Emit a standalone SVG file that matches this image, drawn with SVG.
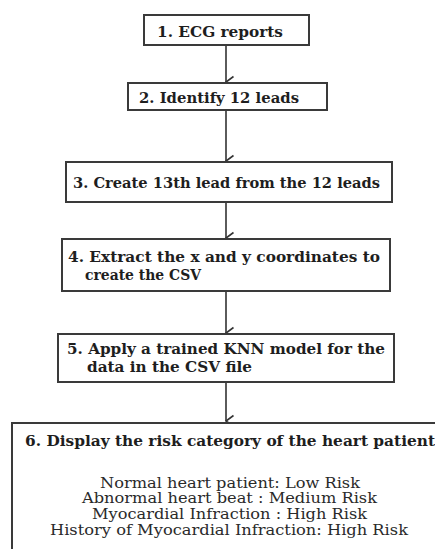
<svg xmlns="http://www.w3.org/2000/svg" width="435" height="549" viewBox="0 0 435 549">
  <style>
    .box { fill: #ffffff; stroke: #3a3a3a; stroke-width: 2; }
    .step { font-family: "DejaVu Serif", "Liberation Serif", serif; font-weight: bold; font-size: 15px; fill: #1e1e1e; }
    .item { font-family: "DejaVu Serif", "Liberation Serif", serif; font-size: 14.5px; fill: #2a2a2a; text-anchor: middle; }
    .link { stroke: #333333; stroke-width: 1.6; fill: none; }
  </style>
  <defs>
    <marker id="head" viewBox="0 0 14 10" refX="7" refY="9" markerWidth="14" markerHeight="10" markerUnits="userSpaceOnUse" orient="auto-start-reverse">
      <path d="M1.5,1.5 L7,9 L12.5,1.5" fill="none" stroke="#333333" stroke-width="1.6"/>
    </marker>
  </defs>
  <rect width="435" height="549" fill="#ffffff"/>

  <g id="connectors">
    <line class="link" x1="226" y1="45" x2="226" y2="82" marker-end="url(#head)"/>
    <line class="link" x1="226" y1="110" x2="226" y2="161" marker-end="url(#head)"/>
    <line class="link" x1="226" y1="202" x2="226" y2="238" marker-end="url(#head)"/>
    <line class="link" x1="226" y1="291" x2="226" y2="333" marker-end="url(#head)"/>
    <line class="link" x1="226" y1="382" x2="226" y2="421" marker-end="url(#head)"/>
  </g>

  <g id="step1">
    <rect class="box" x="144" y="15" width="165" height="30" stroke-width="2.5"/>
    <text class="step" x="157" y="37" textLength="126" lengthAdjust="spacingAndGlyphs">1. ECG reports</text>
  </g>

  <g id="step2">
    <rect class="box" x="128" y="83" width="199" height="27"/>
    <text class="step" x="139" y="103" textLength="160" lengthAdjust="spacingAndGlyphs">2. Identify 12 leads</text>
  </g>

  <g id="step3">
    <rect class="box" x="66" y="162" width="326" height="40"/>
    <text class="step" x="73" y="188" textLength="307" lengthAdjust="spacingAndGlyphs">3. Create 13th lead from the 12 leads</text>
  </g>

  <g id="step4">
    <rect class="box" x="62" y="239" width="328" height="52"/>
    <text class="step" x="68" y="262" textLength="312" lengthAdjust="spacingAndGlyphs">4. Extract the x and y coordinates to</text>
    <text class="step" x="85" y="280" textLength="116" lengthAdjust="spacingAndGlyphs">create the CSV</text>
  </g>

  <g id="step5">
    <rect class="box" x="58" y="334" width="336" height="48"/>
    <text class="step" x="67" y="354" textLength="318" lengthAdjust="spacingAndGlyphs">5. Apply a trained KNN model for the</text>
    <text class="step" x="87" y="372" textLength="165" lengthAdjust="spacingAndGlyphs">data in the CSV file</text>
  </g>

  <g id="step6">
    <rect class="box" x="12" y="423" width="440" height="140"/>
    <text class="step" x="25" y="446" textLength="410" lengthAdjust="spacingAndGlyphs">6. Display the risk category of the heart patient</text>
    <text class="item" x="230" y="488" textLength="260" lengthAdjust="spacingAndGlyphs">Normal heart patient: Low Risk</text>
    <text class="item" x="229.5" y="503" textLength="295" lengthAdjust="spacingAndGlyphs">Abnormal heart beat : Medium Risk</text>
    <text class="item" x="229.5" y="519" textLength="275" lengthAdjust="spacingAndGlyphs">Myocardial Infraction : High Risk</text>
    <text class="item" x="229" y="535" textLength="358" lengthAdjust="spacingAndGlyphs">History of Myocardial Infraction: High Risk</text>
  </g>
</svg>
